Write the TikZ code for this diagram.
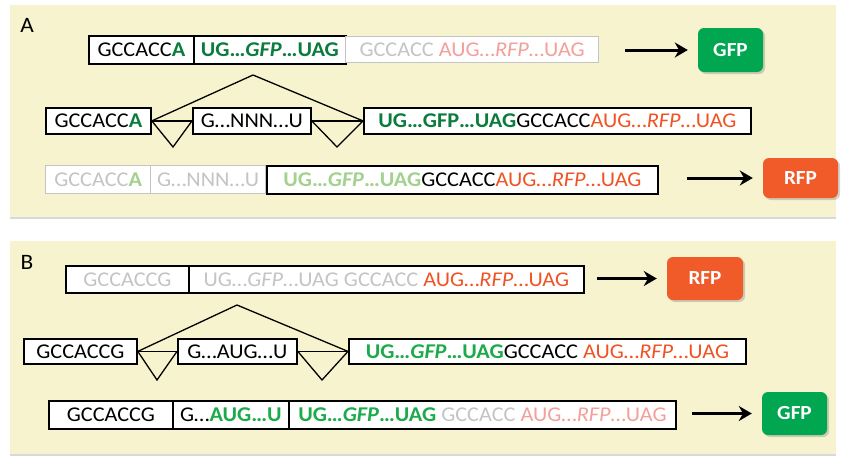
\documentclass[tikz,border=0pt]{standalone}
\usepackage{fontspec}
\setmainfont{Carlito}[FakeStretch=1.06]
\usepackage{xcolor}
\usetikzlibrary{arrows.meta, shadows, positioning}
\definecolor{panelbg}{HTML}{F7F3CE}
\definecolor{dkgreen}{HTML}{0B7B3E}
\definecolor{brgreen}{HTML}{1DAA4B}
\definecolor{rfpred}{HTML}{F05323}
\definecolor{rfppink}{HTML}{F4A09A}
\definecolor{ltgrey}{HTML}{C4C4C4}
\definecolor{ltgreen}{HTML}{A3D18E}
\definecolor{gfpfill}{HTML}{00A650}
\definecolor{rfpfill}{HTML}{F15A29}
\newcommand{\dkg}[1]{\textcolor{dkgreen}{\bfseries #1}}
\newcommand{\brg}[1]{\textcolor{brgreen}{\bfseries #1}}
\newcommand{\rd}[1]{\textcolor{rfpred}{#1}}
\newcommand{\pk}[1]{\textcolor{rfppink}{#1}}
\newcommand{\gy}[1]{\textcolor{ltgrey}{#1}}
\tikzset{
  seg/.style={draw, line width=1.8pt, fill=white, anchor=north west, inner sep=0pt, font=\fontsize{21}{21}\selectfont},
  fadeseg/.style={seg, draw=ltgrey, line width=1.3pt},
  prot/.style={rounded corners=6pt, inner sep=0pt, text=white, font=\fontsize{20}{20}\selectfont\bfseries, drop shadow={shadow xshift=2pt, shadow yshift=-2pt, opacity=0.35}},
  prodarrow/.style={line width=3pt, -{Stealth[length=13pt, width=15pt]}, shorten >=10pt},
  splice/.style={line width=1.3pt},
  panel/.style={fill=panelbg, drop shadow={shadow xshift=0pt, shadow yshift=-2pt, opacity=0.3}}
}
\begin{document}
\begin{tikzpicture}[x=1pt, y=-1pt]
  \useasboundingbox (0,0) rectangle (843,456);
  % panels
  \fill[panel] (10,5) rectangle (836,217);
  \fill[panel] (10,241) rectangle (836,454);
  \node[font=\fontsize{22}{22}\selectfont] (labA) at (27,25) {A};
  \node[font=\fontsize{22}{22}\selectfont] (labB) at (27,262) {B};

  % A, top row
  \node[seg, minimum width=105, minimum height=28] (A1k) at (88,35) {GCCACC\dkg{A}};
  \node[seg, minimum width=152, minimum height=28] (A1g) at (193,35) {\dkg{UG…\textit{GFP}…UAG}};
  \node[fadeseg, minimum width=253, minimum height=26] (A1r) at (345,36) {\gy{GCCACC} \pk{AUG…\textit{RFP}…UAG}};
  \node[prot, fill=gfpfill, minimum width=65, minimum height=44] (GFPa) at (730.5,50) {GFP};
  \coordinate (arrA) at (625,50);
  \draw[prodarrow] (arrA) -- (GFPa);

  % A, splicing
  \node[seg, minimum width=105, minimum height=26] (A2k) at (45,107) {GCCACC\dkg{A}};
  \node[seg, minimum width=118, minimum height=26] (A2n) at (192,107) {G…NNN…U};
  \node[seg, minimum width=387, minimum height=26] (A2g) at (363,107) {\dkg{UG…GFP…UAG}GCCACC\rd{AUG…\textit{RFP}…UAG}};
  \coordinate (topA) at (253,75);
  \coordinate (vA1) at (173,147);
  \coordinate (vA2) at (337,147);
  \draw[splice] (A2k.east) -- (topA) -- (A2g.west);
  \draw[splice] (A2k.east) -- (A2n.west);
  \draw[splice] (A2n.east) -- (A2g.west);
  \draw[splice] (A2k.east) -- (vA1) -- (A2n.west);
  \draw[splice] (A2n.east) -- (vA2) -- (A2g.west);

  % A, spliced
  \node[fadeseg, minimum width=105, minimum height=28] (A3k) at (45,165) {\gy{GCCACC}\textcolor{ltgreen}{\bfseries A}};
  \node[fadeseg, minimum width=115, minimum height=28] (A3n) at (150,165) {\gy{G…NNN…U}};
  \node[seg, minimum width=391, minimum height=28] (A3g) at (266,165) {\textcolor{ltgreen}{\bfseries UG…\textit{GFP}…UAG}GCCACC\rd{AUG…\textit{RFP}…UAG}};
  \node[prot, fill=rfpfill, minimum width=75, minimum height=40] (RFPa) at (800.5,178) {RFP};
  \coordinate (arrA2) at (687,178);
  \draw[prodarrow] (arrA2) -- (RFPa);

  % B, top row
  \node[seg, minimum width=123, minimum height=27] (B1k) at (65,265) {\gy{GCCACCG}};
  \node[seg, minimum width=395, minimum height=27] (B1r) at (188,265) {\gy{UG…\textit{GFP}…UAG GCCACC} \rd{AUG…\textit{RFP}…UAG}};
  \node[prot, fill=rfpfill, minimum width=76, minimum height=43] (RFPb) at (705,278.5) {RFP};
  \coordinate (arrB) at (597,278.5);
  \draw[prodarrow] (arrB) -- (RFPb);

  % B, splicing
  \node[seg, minimum width=113, minimum height=25] (B2k) at (23,338) {GCCACCG};
  \node[seg, minimum width=119, minimum height=25] (B2n) at (177,338) {G…AUG…U};
  \node[seg, minimum width=397, minimum height=25] (B2g) at (348,338) {\brg{UG…\textit{GFP}…UAG}GCCACC \rd{AUG…\textit{RFP}…UAG}};
  \coordinate (topB) at (237,305);
  \coordinate (vB1) at (157,380);
  \coordinate (vB2) at (322,380);
  \draw[splice] (B2k.east) -- (topB) -- (B2g.west);
  \draw[splice] (B2k.east) -- (B2n.west);
  \draw[splice] (B2n.east) -- (B2g.west);
  \draw[splice] (B2k.east) -- (vB1) -- (B2n.west);
  \draw[splice] (B2n.east) -- (vB2) -- (B2g.west);

  % B, spliced
  \node[seg, minimum width=124, minimum height=28] (B3k) at (48,400) {GCCACCG};
  \node[seg, minimum width=116, minimum height=28] (B3n) at (172,400) {G…\brg{AUG…U}};
  \node[seg, minimum width=387, minimum height=28] (B3g) at (288,400) {\brg{UG…\textit{GFP}…UAG} \gy{GCCACC} \pk{AUG…\textit{RFP}…UAG}};
  \node[prot, fill=gfpfill, minimum width=65, minimum height=43] (GFPb) at (794.5,413.5) {GFP};
  \coordinate (arrB2) at (692,413.5);
  \draw[prodarrow] (arrB2) -- (GFPb);
\end{tikzpicture}
\end{document}
